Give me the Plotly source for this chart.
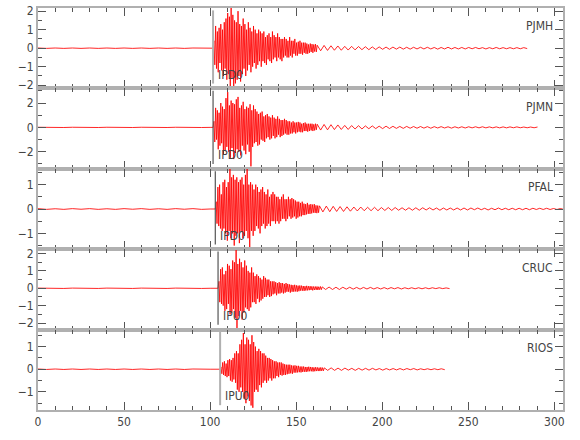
import numpy as np
import plotly.graph_objects as go
from plotly.subplots import make_subplots

STATIONS = ["PJMH", "PJMN", "PFAL", "CRUC", "RIOS"]
PICK_TIMES = [101.7, 101.7, 103.0, 104.6, 105.8]
PICK_LABELS = ["IPD0", "IPD0", "IPD0", "IPU0", "IPU0"]
X_TICKS = [0, 50, 100, 150, 200, 250, 300]

NOISE_DT = 5.0
MAIN_DT = 0.5
CODA_DT = 2.0

PJMH_NOISE = [0.01, -0.01, 0.01, -0.01, 0.01, -0.01, 0.01, -0.01, 0.01, -0.01, 0.01,
              -0.01, 0.01, -0.01, 0.01, -0.01, 0.01, -0.01, 0.01, -0.01, 0.0]
PJMH_MAIN = [0.0, 0.4, -0.9, 1.2, -1.1, 0.9, -1.3, 1.1, -0.8,
             1.3, -1.2, 1.0, -1.5, 1.4, -1.1, 1.6, -1.7,
             1.9, -1.4, 1.7, -2.1, 2.3, -1.6, 1.8, -2.2,
             1.5, -1.9, 1.4, -1.7, 2.0, -1.5, 1.3, -1.8,
             1.2, -1.4, 1.6, -1.1, 1.3, -1.5, 1.0, -1.2,
             1.4, -0.9, 1.1, -1.3, 0.9, -1.0, 1.2, -0.8,
             1.0, -1.1, 0.8, -0.9, 1.0, -0.7, 0.9, -1.0,
             0.8, -0.7, 0.9, -0.8, 0.6, -0.9, 0.7, -0.6,
             0.8, -0.7, 0.6, -0.8, 0.9, -0.6, 0.7, -0.5,
             0.6, -0.7, 0.8, -0.5, 0.6, -0.6, 0.5, -0.7,
             0.5, -0.5, 0.6, -0.4, 0.5, -0.5, 0.4, -0.5,
             0.6, -0.4, 0.4, -0.5, 0.4, -0.3, 0.5, -0.4,
             0.3, -0.4, 0.35, -0.3, 0.4, -0.3, 0.3, -0.35,
             0.3, -0.25, 0.3, -0.3, 0.25, -0.3, 0.2, -0.25,
             0.25, -0.2, 0.22, -0.25, 0.2, -0.18, 0.22, -0.2]
PJMH_CODA = [0.16, -0.14, 0.15, -0.12, 0.13, -0.11, 0.12, -0.11, 0.1, -0.1,
             0.1, -0.09, 0.09, -0.08, 0.08, -0.08, 0.07, -0.07, 0.07, -0.06,
             0.06, -0.06, 0.06, -0.05, 0.06, -0.05, 0.05, -0.05, 0.05, -0.04,
             0.05, -0.04, 0.05, -0.04, 0.04, -0.05, 0.04, -0.04, 0.05, -0.04,
             0.04, -0.04, 0.04, -0.04, 0.04, -0.03, 0.04, -0.03, 0.03, -0.04,
             0.03, -0.03, 0.04, -0.03, 0.03, -0.03, 0.03, -0.03, 0.03, -0.03,
             0.03, -0.02]

PJMN_NOISE = [0.01, -0.01, 0.01, -0.01, 0.01, -0.01, 0.01, -0.01, 0.01, -0.01, 0.01,
              -0.01, 0.01, -0.01, 0.01, -0.01, 0.01, -0.01, 0.01, -0.01, 0.0]
PJMN_MAIN = [0.0, 0.5, -1.2, 1.6, -1.0, 1.4, -1.8, 1.2, -1.5,
             2.0, -1.3, 1.7, -2.2, 1.5, -1.9, 2.4, -1.6,
             2.9, -2.0, 1.8, -2.5, 2.2, -1.7, 2.0, -2.6,
             1.9, -2.1, 2.3, -1.8, 2.5, -2.0, 1.6, -2.3,
             1.8, -1.5, 2.1, -1.9, 1.5, -2.2, 1.7, -1.4,
             1.6, -2.0, 1.9, -3.2, 1.4, -1.6, 1.8, -1.3,
             1.5, -1.2, 1.3, -1.5, 1.1, -1.4, 1.2, -1.0,
             1.3, -1.1, 0.9, -1.2, 1.0, -0.9, 1.1, -0.8,
             0.9, -1.0, 0.8, -0.9, 1.0, -0.7, 0.8, -0.9,
             0.7, -0.8, 0.9, -0.6, 0.7, -0.8, 0.6, -0.7,
             0.6, -0.6, 0.7, -0.5, 0.6, -0.6, 0.5, -0.6,
             0.5, -0.5, 0.4, -0.5, 0.5, -0.4, 0.4, -0.5,
             0.4, -0.4, 0.45, -0.35, 0.4, -0.4, 0.3, -0.4,
             0.35, -0.3, 0.4, -0.3, 0.3, -0.35, 0.3, -0.3,
             0.3, -0.25, 0.3, -0.3, 0.25, -0.25, 0.3, -0.2]
PJMN_CODA = [0.26, -0.22, 0.24, -0.2, 0.22, -0.18, 0.2, -0.17, 0.16, -0.17,
             0.15, -0.13, 0.14, -0.13, 0.12, -0.11, 0.12, -0.1, 0.1, -0.1,
             0.1, -0.09, 0.09, -0.08, 0.08, -0.08, 0.08, -0.07, 0.07, -0.07,
             0.07, -0.06, 0.06, -0.07, 0.06, -0.05, 0.06, -0.05, 0.05, -0.06,
             0.05, -0.05, 0.05, -0.05, 0.05, -0.04, 0.05, -0.04, 0.05, -0.04,
             0.04, -0.04, 0.04, -0.04, 0.04, -0.04, 0.04, -0.03, 0.04, -0.03,
             0.03, -0.03, 0.03, -0.03, 0.03]

PFAL_NOISE = [0.015, -0.015, 0.01, -0.015, 0.015, -0.01, 0.015, -0.015, 0.01, -0.015, 0.015,
              -0.01, 0.015, -0.015, 0.01, -0.015, 0.015, -0.01, 0.015, -0.015, 0.0]
PFAL_MAIN = [0.0, 0.3, -0.6, 0.9, -0.7, 1.0, -0.8, 0.6, -0.9,
             1.1, -0.8, 1.2, -1.0, 0.9, -1.3, 1.1, -0.9,
             1.7, -1.2, 1.3, -1.0, 1.4, -1.5, 1.2, -1.1,
             1.3, -1.0, 1.1, -1.4, 1.2, -0.9, 1.3, -1.2,
             1.0, -1.1, 1.4, -0.9, 1.7, -1.2, 1.0, -1.7,
             1.1, -0.9, 1.0, -1.1, 0.8, -0.9, 1.0, -0.7,
             0.9, -0.8, 0.7, -1.0, 0.8, -0.7, 0.9, -0.6,
             0.7, -0.8, 0.6, -0.7, 0.8, -0.6, 0.5, -0.7,
             0.6, -0.5, 0.7, -0.5, 0.6, -0.6, 0.5, -0.5,
             0.5, -0.6, 0.4, -0.5, 0.5, -0.4, 0.6, -0.4,
             0.4, -0.5, 0.4, -0.4, 0.5, -0.3, 0.4, -0.4,
             0.45, -0.35, 0.4, -0.3, 0.35, -0.4, 0.3, -0.35,
             0.3, -0.3, 0.25, -0.3, 0.3, -0.25, 0.22, -0.25,
             0.2, -0.22, 0.25, -0.2, 0.18, -0.2, 0.2, -0.18,
             0.18, -0.15, 0.2, -0.16, 0.15, -0.17, 0.14, -0.15]
PFAL_CODA = [0.13, -0.12, 0.12, -0.11, 0.11, -0.1, 0.1, -0.1, 0.09, -0.09,
             0.08, -0.08, 0.08, -0.07, 0.07, -0.07, 0.07, -0.07, 0.06, -0.06,
             0.06, -0.06, 0.06, -0.05, 0.05, -0.05, 0.05, -0.05, 0.05, -0.05,
             0.05, -0.04, 0.05, -0.04, 0.04, -0.05, 0.04, -0.04, 0.04, -0.04,
             0.04, -0.04, 0.04, -0.04, 0.04, -0.03, 0.04, -0.03, 0.03, -0.04,
             0.03, -0.03, 0.04, -0.03, 0.03, -0.03, 0.03, -0.03, 0.03, -0.03,
             0.03, -0.03, 0.03, -0.02, 0.03, -0.02, 0.03, -0.02, 0.02, -0.02,
             0.02, -0.02, 0.02, -0.02]

CRUC_NOISE = [0.01, -0.01, 0.01, -0.01, 0.01, -0.01, 0.01, -0.01, 0.01, -0.01, 0.01,
              -0.01, 0.01, -0.01, 0.01, -0.01, 0.01, -0.01, 0.01, -0.01, 0.0]
CRUC_MAIN = [0.0, 0.4, -0.8, 1.1, -0.9, 1.2, -1.0, 0.8, -1.3,
             1.0, -1.2, 1.4, -0.9, 1.3, -1.5, 1.1, -1.4,
             1.6, -1.2, 1.5, -1.7, 2.2, -2.3, 1.4, -1.6,
             1.7, -1.3, 1.5, -1.8, 1.2, -1.4, 1.6, -1.1,
             1.3, -1.2, 1.0, -1.3, 0.9, -1.1, 1.2, -0.8,
             0.9, -0.8, 0.7, -0.9, 0.8, -0.6, 0.7, -0.8,
             0.6, -0.7, 0.5, -0.6, 0.7, -0.5, 0.6, -0.5,
             0.5, -0.4, 0.5, -0.5, 0.4, -0.45, 0.4, -0.35,
             0.4, -0.3, 0.35, -0.4, 0.3, -0.3, 0.35, -0.3,
             0.3, -0.25, 0.3, -0.3, 0.25, -0.25, 0.3, -0.2,
             0.25, -0.2, 0.22, -0.25, 0.2, -0.2, 0.18, -0.2,
             0.2, -0.18, 0.17, -0.2, 0.15, -0.17, 0.16, -0.14,
             0.15, -0.14, 0.13, -0.15, 0.12, -0.13, 0.14, -0.12,
             0.12, -0.11, 0.12, -0.1, 0.11, -0.12, 0.1, -0.1,
             0.1, -0.09, 0.1, -0.1, 0.09, -0.08, 0.1, -0.08]
CRUC_CODA = [0.08, -0.07, 0.07, -0.07, 0.06, -0.07, 0.06, -0.05, 0.06, -0.05,
             0.05, -0.05, 0.05, -0.04, 0.05, -0.04, 0.04, -0.04, 0.04, -0.04,
             0.04, -0.03, 0.04, -0.04, 0.03, -0.03, 0.03, -0.03, 0.03, -0.03,
             0.03, -0.03, 0.03, -0.02, 0.03, -0.02, 0.02, -0.02]

RIOS_NOISE = [0.01, -0.01, 0.01, -0.01, 0.01, -0.01, 0.01, -0.01, 0.01, -0.01, 0.01,
              -0.01, 0.01, -0.01, 0.01, -0.01, 0.01, -0.01, 0.01, -0.01, 0.0]
RIOS_MAIN = [0.0, 0.1, -0.2, 0.3, -0.25, 0.35, -0.3, 0.25, -0.35,
             0.4, -0.3, 0.45, -0.5, 0.4, -0.55, 0.5, -0.45,
             0.7, -0.6, 0.8, -0.9, 0.7, -1.0, 1.1, -0.8,
             1.3, -1.0, 1.6, -1.3, 1.1, -1.5, 1.4, -1.2,
             1.3, -1.4, 1.1, -1.6, 1.5, -1.7, 1.2, -1.0,
             1.0, -0.9, 0.8, -1.0, 0.9, -0.7, 0.8, -0.8,
             0.7, -0.6, 0.7, -0.5, 0.6, -0.6, 0.5, -0.5,
             0.5, -0.4, 0.45, -0.5, 0.4, -0.4, 0.35, -0.4,
             0.35, -0.3, 0.3, -0.35, 0.3, -0.25, 0.3, -0.28,
             0.25, -0.25, 0.22, -0.25, 0.2, -0.22, 0.2, -0.2,
             0.2, -0.18, 0.17, -0.2, 0.16, -0.15, 0.17, -0.15,
             0.15, -0.14, 0.15, -0.13, 0.12, -0.14, 0.12, -0.12,
             0.12, -0.11, 0.1, -0.12, 0.1, -0.1, 0.11, -0.09,
             0.1, -0.09, 0.09, -0.1, 0.08, -0.09, 0.09, -0.08,
             0.08, -0.08, 0.07, -0.08, 0.08, -0.07, 0.07, -0.07]
RIOS_CODA = [0.06, -0.05, 0.06, -0.05, 0.05, -0.05, 0.05, -0.04, 0.04, -0.05,
             0.04, -0.04, 0.04, -0.04, 0.04, -0.03, 0.03, -0.04, 0.03, -0.03,
             0.03, -0.03, 0.03, -0.03, 0.03, -0.02, 0.03, -0.03, 0.02, -0.02,
             0.02, -0.02, 0.02, -0.02, 0.02, -0.02]

NOISE = [PJMH_NOISE, PJMN_NOISE, PFAL_NOISE, CRUC_NOISE, RIOS_NOISE]
MAIN = [PJMH_MAIN, PJMN_MAIN, PFAL_MAIN, CRUC_MAIN, RIOS_MAIN]
CODA = [PJMH_CODA, PJMN_CODA, PFAL_CODA, CRUC_CODA, RIOS_CODA]

# layout / style
Y_RANGES = [[-2.17, 2.17], [-3.4, 3.2], [-1.65, 1.65], [-2.38, 2.25], [-1.8, 1.75]]
Y_DTICK = [1, 2, 1, 1, 1]
Y_MINOR = [0.5, 1, 0.5, 0.5, 0.5]
PICK_COLORS = ["#b0b0b0", "#555555", "#555555", "#555555", "#b0b0b0"]
PICK_WIDTHS = [2, 1.2, 1.2, 1.2, 2]
FONT = "Liberation Sans Narrow, DejaVu Sans Condensed, sans-serif"

n = len(STATIONS)
fig = make_subplots(rows=n, cols=1, shared_xaxes=True, vertical_spacing=0)

for i in range(n):
    pick = PICK_TIMES[i]
    xn = np.arange(len(NOISE[i])) * NOISE_DT
    xm = pick + np.arange(len(MAIN[i])) * MAIN_DT
    xc = pick + len(MAIN[i]) * MAIN_DT + np.arange(len(CODA[i])) * CODA_DT
    x = np.concatenate([xn, xm, xc])
    y = np.concatenate([NOISE[i], MAIN[i], CODA[i]])
    fig.add_trace(go.Scatter(x=x, y=y, mode="lines",
                             line=dict(color="rgba(255,0,0,0.85)", width=1),
                             showlegend=False, hoverinfo="skip"), row=i + 1, col=1)
    ax = "" if i == 0 else str(i + 1)
    fig.add_shape(type="line", xref="x" + ax, yref="y" + ax + " domain",
                  x0=pick, x1=pick, y0=0.06, y1=0.97,
                  line=dict(color=PICK_COLORS[i], width=PICK_WIDTHS[i]))
    fig.add_annotation(xref="x" + ax, yref="y" + ax + " domain",
                       x=pick + 1.5, y=0.17, text=PICK_LABELS[i], showarrow=False,
                       xanchor="left", yanchor="middle",
                       font=dict(family=FONT, size=12, color="#444"))
    fig.add_annotation(xref="x" + ax + " domain", yref="y" + ax + " domain",
                       x=0.985, y=0.77, text=STATIONS[i], showarrow=False,
                       xanchor="right", yanchor="middle",
                       font=dict(family=FONT, size=12, color="#444"))
    fig.update_yaxes(row=i + 1, col=1, range=Y_RANGES[i], dtick=Y_DTICK[i], tick0=0,
                     showgrid=False, zeroline=False, showline=True, automargin=False,
                     ticklabeloverflow="allow",
                     linecolor="#b0b0b0", linewidth=2, mirror="allticks",
                     ticks="inside", ticklen=8, tickcolor="#555", tickwidth=1,
                     minor=dict(ticks="inside", dtick=Y_MINOR[i], tick0=0,
                                ticklen=4, tickcolor="#555", showgrid=False),
                     tickfont=dict(family=FONT, size=12, color="#444"))
    fig.update_xaxes(row=i + 1, col=1, range=[0, 305], tickvals=X_TICKS,
                     showgrid=False, zeroline=False, showline=True, automargin=False,
                     linecolor="#b0b0b0", linewidth=2, mirror="allticks",
                     ticks="inside", ticklen=8, tickcolor="#555", tickwidth=1,
                     minor=dict(ticks="inside", dtick=10, tick0=0, ticklen=4,
                                tickcolor="#555", showgrid=False),
                     showticklabels=(i == n - 1),
                     tickfont=dict(family=FONT, size=12, color="#444"))

fig.update_layout(width=580, height=440,
                  margin=dict(l=38, r=17, t=8, b=30),
                  paper_bgcolor="white", plot_bgcolor="white",
                  font=dict(family=FONT, size=12, color="#444"))

fig.write_html("out.html", config={"displayModeBar": False},
               post_script="document.body.style.margin='0';document.body.style.overflow='hidden';")
